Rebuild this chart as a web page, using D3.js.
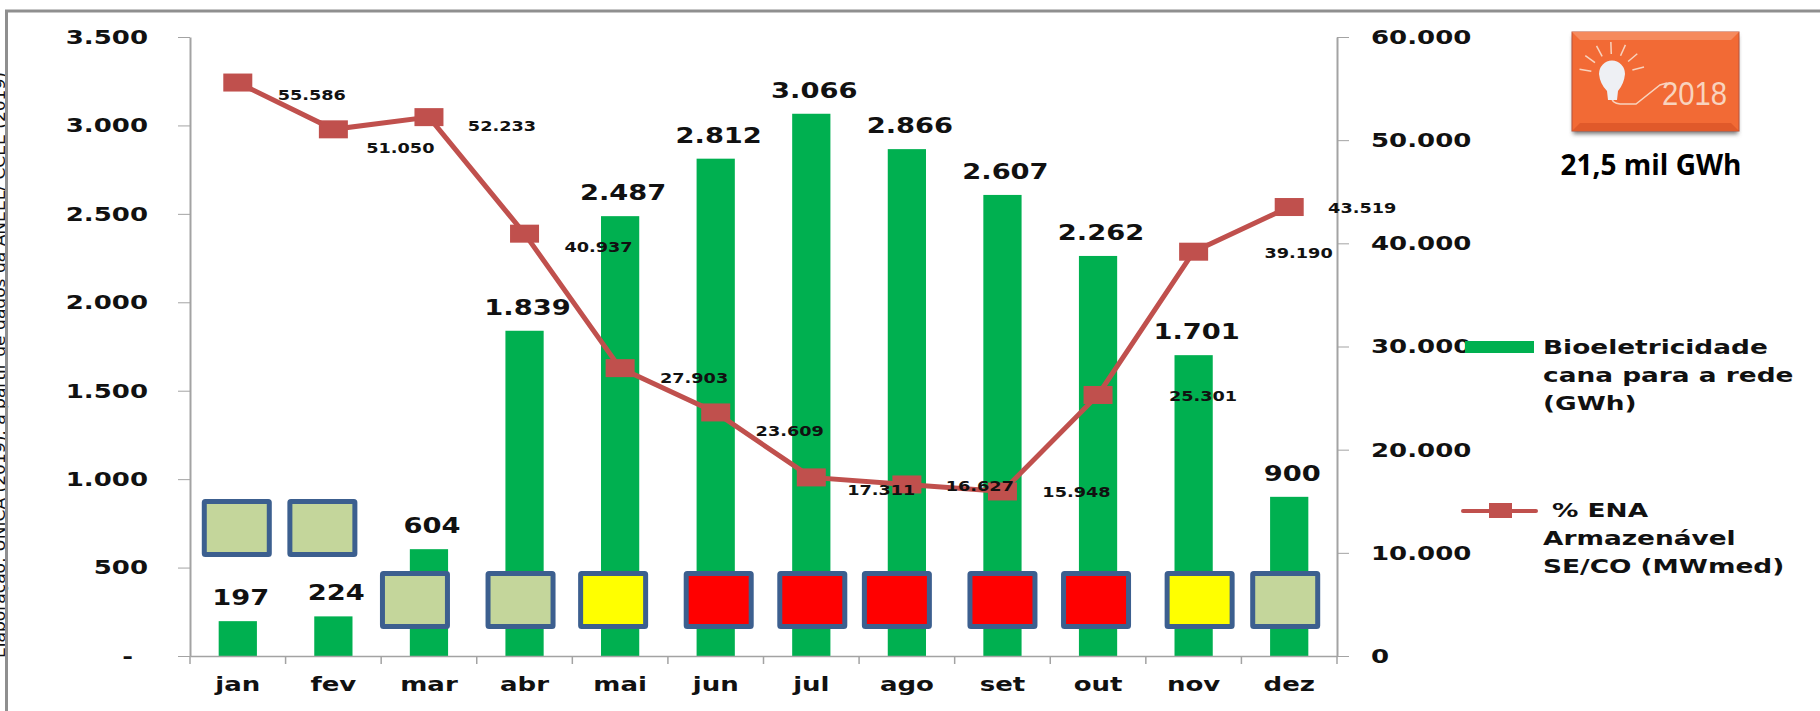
<!DOCTYPE html>
<html>
<head>
<meta charset="utf-8">
<script src="https://cdn.jsdelivr.net/npm/d3@7"></script>
<style>
  html, body { margin: 0; padding: 0; background: #fff; overflow: hidden; }
  text { font-family: "DejaVu Sans", sans-serif; font-weight: bold; fill: #111; }
  .axis text { font-size: 20px; }
  .axis path, .axis line { stroke: #a3a3a3; }
  .bar-label { font-size: 21px; }
  .line-label { font-size: 13.6px; }
  .legend-text { font-size: 20.3px; }
</style>
</head>
<body>
<div id="d3-container"></div>
<script>
/* DATA */
const months = ["jan","fev","mar","abr","mai","jun","jul","ago","set","out","nov","dez"];
const bioeletricidade = [197,224,604,1839,2487,2812,3066,2866,2607,2262,1701,900];
const enaArmazenavel = [55586,51050,52233,40937,27903,23609,17311,16627,15948,25301,39190,43519];
const status = ["verde","verde","verde","verde","amarelo","vermelho","vermelho","vermelho","vermelho","vermelho","amarelo","verde"];
const leftTicks = [0,500,1000,1500,2000,2500,3000,3500];
const rightTicks = [0,10000,20000,30000,40000,50000,60000];

/* CONSTANTS AND GLOBALS */
const width = 1820,
  height = 711,
  margin = { top: 37, bottom: 55, left: 190, right: 483 },
  widen = 1.3; // the source text is stretched sideways

// hand placed things in the original slide, offsets from the month's position
const lineLabelNudge = [[74,12],[67,19],[73,9],[74,13],[74,10],[74,19],[70,13],[73,2],[74,1],[105,1],[105,1],[73,1]];
const boxNudge = [-1,-11,-14,-4,-7,3,1,-10,0,-2,6,-4];
const boxUpper = [true,true,false,false,false,false,false,false,false,false,false,false];
const statusColor = { verde: "#C4D69B", amarelo: "#FFFF00", vermelho: "#FF0000" };

const ptBR = d3.formatLocale({ decimal: ",", thousands: ".", grouping: [3], currency: ["R$",""] });
const fmt = ptBR.format(",d");

const svg = d3.select("#d3-container")
  .append("svg")
  .attr("width", width)
  .attr("height", height);

/* SCALES */
const xScale = d3.scaleBand()
  .domain(months)
  .range([margin.left, width - margin.right])
  .paddingInner(0.6)
  .paddingOuter(0.3);

const yLeft = d3.scaleLinear().domain([0,3500]).range([height - margin.bottom, margin.top]);
const yRight = d3.scaleLinear().domain([0,60000]).range([height - margin.bottom, margin.top]);
const cx = m => xScale(m) + xScale.bandwidth() / 2;

/* FRAME AND SOURCE NOTE */
svg.append("text")
  .attr("transform", `translate(5,658) rotate(-90)`)
  .attr("font-size", 15)
  .style("font-weight", "normal")
  .attr("textLength", 586)
  .attr("lengthAdjust", "spacingAndGlyphs")
  .text("Elaboração: UNICA (2019), a partir de dados da ANEEL/ CCEE (2019)");

svg.append("path")
  .attr("d", `M6.5,${height} V11 H${width}`)
  .attr("fill", "none")
  .attr("stroke", "#8f8f8f")
  .attr("stroke-width", 3);

/* BARS */
svg.selectAll("rect.bar")
  .data(months)
  .join("rect")
  .attr("class", "bar")
  .attr("x", d => xScale(d))
  .attr("width", xScale.bandwidth())
  .attr("y", (d, i) => yLeft(bioeletricidade[i]))
  .attr("height", (d, i) => yLeft(0) - yLeft(bioeletricidade[i]))
  .attr("fill", "#00B050");

/* AXES */
const xAxisGroup = svg.append("g")
  .attr("class", "axis")
  .attr("transform", `translate(0,${yLeft(0)})`)
  .call(d3.axisBottom(xScale).tickSize(0).tickPadding(29));
xAxisGroup.select("path").attr("stroke-width", 1.5);
xAxisGroup.selectAll("text").attr("class", "wide").attr("dy", "0.3em");
// ticks sit between the months
xAxisGroup.selectAll("line.sep")
  .data(d3.range(months.length + 1))
  .join("line")
  .attr("class", "sep")
  .attr("x1", d => margin.left + d * xScale.step())
  .attr("x2", d => margin.left + d * xScale.step())
  .attr("y1", 0)
  .attr("y2", 8)
  .attr("stroke-width", 1.5);

const leftAxisGroup = svg.append("g")
  .attr("class", "axis")
  .attr("transform", `translate(${margin.left},0)`)
  .call(d3.axisLeft(yLeft).tickValues(leftTicks).tickSize(12).tickSizeOuter(0).tickPadding(30)
    .tickFormat(d => d === 0 ? "-" : fmt(d)));
leftAxisGroup.select("path").attr("stroke-width", 2);
leftAxisGroup.selectAll("text").attr("class", "wide");
leftAxisGroup.selectAll(".tick").filter(d => d === 0).select("text").attr("dx", -15);

const rightAxisGroup = svg.append("g")
  .attr("class", "axis")
  .attr("transform", `translate(${width - margin.right},0)`)
  .call(d3.axisRight(yRight).tickValues(rightTicks).tickSize(12).tickSizeOuter(0).tickPadding(22)
    .tickFormat(fmt));
rightAxisGroup.select("path").attr("stroke-width", 2);
rightAxisGroup.selectAll("text").attr("class", "wide");

/* BAR LABELS */
svg.selectAll("text.bar-label")
  .data(months)
  .join("text")
  .attr("class", "bar-label wide")
  .attr("text-anchor", "middle")
  .attr("dominant-baseline", "central")
  .attr("x", d => cx(d) + 3)
  .attr("y", (d, i) => yLeft(bioeletricidade[i]) - 23)
  .text((d, i) => fmt(bioeletricidade[i]));

/* LINE */
const line = d3.line()
  .x((d, i) => cx(months[i]))
  .y(d => yRight(d));

svg.append("path")
  .datum(enaArmazenavel)
  .attr("d", line)
  .attr("fill", "none")
  .attr("stroke", "#C0504D")
  .attr("stroke-width", 5);

svg.selectAll("rect.marker")
  .data(months)
  .join("rect")
  .attr("class", "marker")
  .attr("x", d => cx(d) - 14.5)
  .attr("y", (d, i) => yRight(enaArmazenavel[i]) - 9)
  .attr("width", 29)
  .attr("height", 18)
  .attr("fill", "#C0504D");

svg.selectAll("text.line-label")
  .data(months)
  .join("text")
  .attr("class", "line-label wide")
  .attr("text-anchor", "middle")
  .attr("dominant-baseline", "central")
  .attr("x", (d, i) => cx(d) + lineLabelNudge[i][0])
  .attr("y", (d, i) => yRight(enaArmazenavel[i]) + lineLabelNudge[i][1])
  .text((d, i) => fmt(enaArmazenavel[i]));

/* STATUS BOXES */
svg.selectAll("rect.status")
  .data(months)
  .join("rect")
  .attr("class", "status")
  .attr("x", (d, i) => cx(d) + boxNudge[i] - 32.5)
  .attr("y", (d, i) => boxUpper[i] ? 501.5 : 573.5)
  .attr("width", 65)
  .attr("height", 53)
  .attr("rx", 1)
  .attr("fill", (d, i) => statusColor[status[i]])
  .attr("stroke", "#3C5F8F")
  .attr("stroke-width", 5);

/* LEGEND */
svg.append("rect")
  .attr("x", 1465).attr("y", 341)
  .attr("width", 69).attr("height", 12)
  .attr("fill", "#00B050");

svg.append("line")
  .attr("x1", 1463).attr("x2", 1536)
  .attr("y1", 511).attr("y2", 511)
  .attr("stroke", "#C0504D")
  .attr("stroke-width", 4)
  .attr("stroke-linecap", "round");

svg.append("rect")
  .attr("x", 1489).attr("y", 503)
  .attr("width", 23).attr("height", 15)
  .attr("fill", "#C0504D");

const legendLines = [
  ["Bioeletricidade", 1543, 347],
  ["cana para a rede", 1543, 375],
  ["(GWh)", 1543, 403],
  ["% ENA", 1552, 510],
  ["Armazenável", 1543, 538],
  ["SE/CO (MWmed)", 1543, 566]
];
svg.selectAll("text.legend-text")
  .data(legendLines)
  .join("text")
  .attr("class", "legend-text wide")
  .attr("x", d => d[1])
  .attr("y", d => d[2])
  .attr("dominant-baseline", "central")
  .text(d => d[0]);

/* LOGO */
const defs = svg.append("defs");
defs.append("filter").attr("id", "soft").append("feGaussianBlur").attr("stdDeviation", 2);
defs.append("filter").attr("id", "soft1").append("feGaussianBlur").attr("stdDeviation", 0.5);

const logo = svg.append("g");
logo.append("rect")
  .attr("x", 1573).attr("y", 36).attr("width", 165).attr("height", 98)
  .attr("fill", "#777").attr("filter", "url(#soft)");
logo.append("rect")
  .attr("x", 1572).attr("y", 32).attr("width", 167).attr("height", 99)
  .attr("fill", "#F26A35").attr("stroke", "#B8533A").attr("stroke-width", 1);
logo.append("path")
  .attr("d", "M1572,32 H1739 L1731,40 H1580 Z")
  .attr("fill", "#F58A5E");
logo.append("path")
  .attr("d", "M1572,131 H1739 L1731,123 H1580 Z")
  .attr("fill", "#E0592A");

d3.range(-80, 100, 26).forEach(a => {
  const r = (a - 90) * Math.PI / 180;
  logo.append("line")
    .attr("x1", 1612 + 21 * Math.cos(r)).attr("y1", 75 + 21 * Math.sin(r))
    .attr("x2", 1612 + 33 * Math.cos(r)).attr("y2", 75 + 33 * Math.sin(r))
    .attr("stroke", "#F8D3BE").attr("stroke-width", 1.5);
});
logo.append("path")
  .attr("d", "M1612,98 Q1612,103 1620,104 L1636,104 L1660,85 L1667,83")
  .attr("fill", "none").attr("stroke", "#F8D3BE").attr("stroke-width", 1.5);
logo.append("path")
  .attr("d", "M1599,74 A13,13.5 0 1 1 1625,74 Q1624,84 1618,91 L1617,100 L1608,100 L1607,91 Q1600,84 1599,74 Z")
  .attr("fill", "#EEF0F4").attr("filter", "url(#soft1)");
logo.append("text")
  .attr("x", 1662).attr("y", 105)
  .attr("font-size", 33)
  .attr("textLength", 65)
  .attr("lengthAdjust", "spacingAndGlyphs")
  .style("font-family", "'Liberation Sans', sans-serif")
  .style("font-weight", "normal")
  .style("fill", "#F8D3BE")
  .text("2018");

svg.append("text")
  .attr("x", 1651).attr("y", 164)
  .attr("text-anchor", "middle")
  .attr("dominant-baseline", "central")
  .attr("font-size", 28)
  .style("font-family", "'Open Sans', sans-serif")
  .style("fill", "#000")
  .text("21,5 mil GWh");

// stretch the wide labels, keeps the anchors working
svg.selectAll("text.wide").each(function () {
  const t = d3.select(this);
  t.attr("textLength", this.getComputedTextLength() * widen)
    .attr("lengthAdjust", "spacingAndGlyphs");
});
</script>
</body>
</html>
